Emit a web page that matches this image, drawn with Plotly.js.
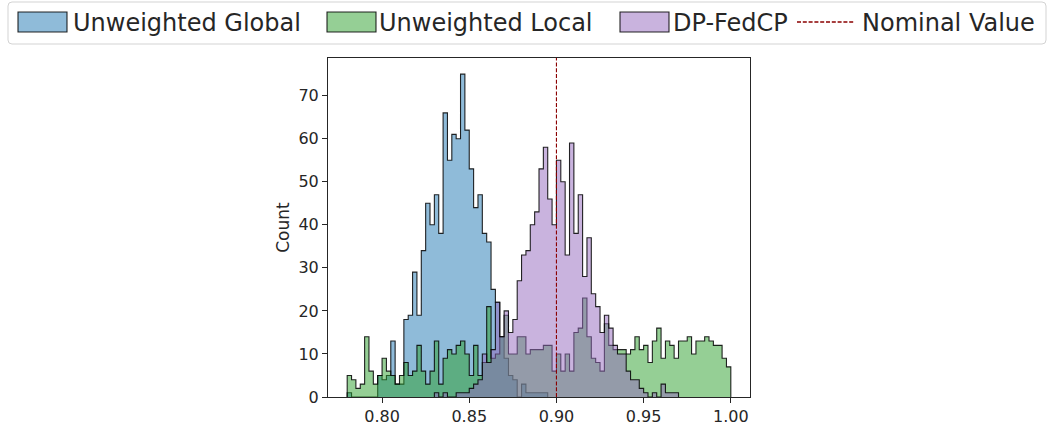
<!DOCTYPE html>
<html>
<head>
<meta charset="utf-8">
<script src="https://cdn.plot.ly/plotly-3.0.1.min.js"></script>
<style>html,body{margin:0;padding:0;background:#fff}#chart{width:1048px;height:427px}</style>
</head>
<body>
<div id="chart"></div>
<script>
// Histogram bins: 88 bins of width 0.0025 from 0.78 to 1.00
const binStart = 0.78;
const binWidth = 0.0025;

const seriesNames = ["Unweighted Global", "Unweighted Local", "DP-FedCP"];

const globalCounts = [
  1,0,0,0,0,0,0,5,4,5, 13,3,3,18,19,29,19,34,45,40,
  47,38,66,55,61,60,75,62,53,44, 47,38,36,25,22,14,9,5,4,0,
  3,1,1,1,1,1,0,0,0,0, 0,0,0,0,0,0,0,0,0,0,
  0,0,0,0,0,0,0,0,0,0, 0,0,0,0,0,0,0,0,0,0,
  0,0,0,0,0,0,0,0
];
const localCounts = [
  5,4,2,3,14,6,3,5,9,6, 5,3,5,8,5,6,12,6,3,6,
  13,3,9,11,10,12,13,10,5,12, 5,8,21,9,10,14,19,10,10,14,
  14,10,11,11,11,12,12,6,10,6, 10,6,15,16,23,14,9,8,6,17,
  12,11,11,11,10,11,14,11,12,8, 13,16,9,13,12,9,13,13,14,10,
  13,13,14,13,12,12,9,7
];
const fedcpCounts = [
  0,0,0,0,0,0,0,0,0,0, 0,0,0,0,0,0,0,0,0,0,
  1,0,1,0,0,1,1,1,2,3, 4,10,8,11,22,14,20,15,18,27,
  33,34,40,43,53,58,46,40,55,50, 33,59,38,47,28,37,24,21,15,19,
  16,12,10,10,6,4,4,2,1,0, 1,0,3,1,1,1,0,0,0,0,
  0,0,0,0,0,0,0,0
];
const nominalValue = 0.90;
const nominalLabel = "Nominal Value";

const xTicks = [0.80, 0.85, 0.90, 0.95, 1.00];
const yTicks = [0, 10, 20, 30, 40, 50, 60, 70];

const fills = ["rgba(31,119,180,0.5)", "rgba(44,160,44,0.5)", "rgba(148,103,189,0.5)"];
const edgeColor = "rgba(0,0,0,0.85)";
const nominalColor = "#8b0000";

function stepTrace(counts, name, fill) {
  const xs = [], ys = [];
  let first = 0, last = counts.length - 1;
  while (first < last && counts[first] === 0) first++;
  while (last > first && counts[last] === 0) last--;
  xs.push(binStart + first * binWidth); ys.push(0);
  for (let i = first; i <= last; i++) {
    xs.push(binStart + i * binWidth);
    ys.push(counts[i]);
  }
  xs.push(binStart + (last + 1) * binWidth); ys.push(counts[last]);
  xs.push(binStart + (last + 1) * binWidth); ys.push(0);
  return {
    type: "scatter", mode: "lines", name: name,
    x: xs, y: ys,
    line: {shape: "hv", color: edgeColor, width: 1.1},
    fill: "tozeroy", fillcolor: fill,
    showlegend: false, hoverinfo: "skip"
  };
}

const data = [
  stepTrace(globalCounts, seriesNames[0], fills[0]),
  stepTrace(localCounts, seriesNames[1], fills[1]),
  stepTrace(fedcpCounts, seriesNames[2], fills[2])
];

// plot area in pixels
const L = 328, R = 750, T = 58, B = 397, W = 1048, H = 427;
const px = v => (v - L) / (R - L);
const py = v => (B - v) / (B - T);

const textColor = "#262626";
const font = {family: "DejaVu Sans, Verdana, sans-serif", color: textColor};

const shapes = [];
const annotations = [];
// legend frame with rounded corners
(function () {
  const x0 = 8, x1 = 1046, y0 = 2, y1 = 44, r = 4;
  const X = v => px(v), Y = v => py(v);
  shapes.push({
    type: "path", xref: "paper", yref: "paper",
    path: `M${X(x0 + r)},${Y(y0)} L${X(x1 - r)},${Y(y0)} Q${X(x1)},${Y(y0)} ${X(x1)},${Y(y0 + r)} L${X(x1)},${Y(y1 - r)} Q${X(x1)},${Y(y1)} ${X(x1 - r)},${Y(y1)} L${X(x0 + r)},${Y(y1)} Q${X(x0)},${Y(y1)} ${X(x0)},${Y(y1 - r)} L${X(x0)},${Y(y0 + r)} Q${X(x0)},${Y(y0)} ${X(x0 + r)},${Y(y0)} Z`,
    line: {color: "#d3d3d3", width: 1}, fillcolor: "rgba(255,255,255,0.8)", layer: "above"
  });
})();
const legendItems = [
  {label: seriesNames[0], kind: "patch", color: fills[0], x: 18, tx: 71},
  {label: seriesNames[1], kind: "patch", color: fills[1], x: 327, tx: 377},
  {label: seriesNames[2], kind: "patch", color: fills[2], x: 620, tx: 671},
  {label: nominalLabel, kind: "line", color: nominalColor, x: 797, tx: 860}
];
legendItems.forEach(it => {
  if (it.kind === "patch") {
    shapes.push({type: "rect", xref: "paper", yref: "paper",
      x0: px(it.x), x1: px(it.x + 49), y0: py(32), y1: py(12),
      fillcolor: it.color, line: {color: edgeColor, width: 1.1}, layer: "above"});
  } else {
    shapes.push({type: "line", xref: "paper", yref: "paper",
      x0: px(it.x), x1: px(it.x + 58), y0: py(22), y1: py(22),
      line: {color: it.color, width: 1.3, dash: "4px,1.8px"}, layer: "above"});
  }
  annotations.push({xref: "paper", yref: "paper", x: px(it.tx), y: py(22.5),
    xanchor: "left", yanchor: "middle", showarrow: false, text: it.label,
    font: Object.assign({size: 24}, font)});
});

// nominal value vertical dashed line
shapes.push({type: "line", xref: "x", yref: "paper", x0: nominalValue, x1: nominalValue,
  y0: 0, y1: 1, line: {color: nominalColor, width: 1.1, dash: "4px,1.8px"}, layer: "above"});

const layout = {
  width: W, height: H,
  margin: {l: L, r: W - R, t: T, b: H - B, pad: 0},
  paper_bgcolor: "#ffffff", plot_bgcolor: "#ffffff",
  showlegend: false,
  font: font,
  xaxis: {
    range: [0.769, 1.011], tickvals: xTicks, tickformat: ".2f",
    ticks: "outside", ticklen: 5, tickwidth: 1, tickcolor: textColor,
    showline: true, linecolor: textColor, linewidth: 1, mirror: true,
    showgrid: false, zeroline: false,
    tickfont: {size: 16, color: textColor, family: font.family}
  },
  yaxis: {
    range: [0, 78.75], tickvals: yTicks,
    ticks: "outside", ticklen: 5, tickwidth: 1, tickcolor: textColor,
    showline: true, linecolor: textColor, linewidth: 1, mirror: true,
    showgrid: false, zeroline: false,
    tickfont: {size: 16, color: textColor, family: font.family},
    title: {text: "Count", font: {size: 17, color: textColor, family: font.family}, standoff: 4}
  },
  shapes: shapes,
  annotations: annotations
};

Plotly.newPlot("chart", data, layout, {staticPlot: true, displayModeBar: false});
</script>
</body>
</html>
